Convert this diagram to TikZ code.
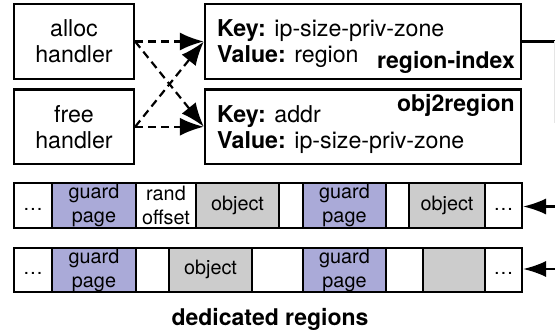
\documentclass[tikz,border=0pt]{standalone}
\usepackage{fontspec}
\setmainfont{TeX Gyre Heros}
\usetikzlibrary{arrows.meta}
\definecolor{guardc}{RGB}{170,170,216}
\definecolor{objc}{RGB}{204,204,204}
\begin{document}
\begin{tikzpicture}[x=1pt,y=-1pt,
  box/.style={draw,line width=2.3pt,inner sep=0pt},
  big/.style={font=\fontsize{23.2}{26.5}\selectfont,inner sep=0pt},
  bigb/.style={font=\fontsize{23}{26.5}\selectfont\bfseries,inner sep=0pt},
  cell/.style={draw,line width=2pt,inner sep=0pt,font=\fontsize{19.8}{24}\selectfont},
  rowa/.style={minimum height=45pt},
  rowb/.style={minimum height=44pt},
  one/.style={text height=14pt,text depth=4pt},
  two/.style={align=center},
  guard/.style={fill=guardc},
  obj/.style={fill=objc},
  dasharrow/.style={line width=2.2pt,dash pattern=on 8pt off 5pt,-{Latex[length=24pt,width=18pt]}},
  solidarrow/.style={line width=2.2pt,-{Latex[length=23pt,width=16pt]}},
]
\useasboundingbox (0,0) rectangle (555,334);

% handler boxes
\node[box,minimum width=120pt,minimum height=75pt] (alloc) at (74,41.5) {};
\node[big,anchor=base] (allocA) at (74,37) {alloc};
\node[big,anchor=base] (allocB) at (74,63) {handler};
\node[box,minimum width=120pt,minimum height=74.5pt] (free) at (74,126.75) {};
\node[big,anchor=base] (freeA) at (74,122.25) {free};
\node[big,anchor=base] (freeB) at (74,148.25) {handler};

% maps
\node[box,minimum width=316pt,minimum height=75pt] (ri) at (363,41.5) {};
\node[big,anchor=base west] (riK) at (217,37) {\textbf{Key:} ip-size-priv-zone};
\node[big,anchor=base west] (riV) at (217,63) {\textbf{Value:} region};
\node[bigb,anchor=base east] (riT) at (515,68.5) {region-index};
\node[box,minimum width=316pt,minimum height=74.5pt] (o2r) at (363,126.75) {};
\node[big,anchor=base west] (o2rK) at (217,122.25) {\textbf{Key:} addr};
\node[big,anchor=base west] (o2rV) at (217,148.25) {\textbf{Value:} ip-size-priv-zone};
\node[bigb,anchor=base east] (o2rT) at (515,112) {obj2region};

% dashed arrows
\draw[dasharrow] (alloc.east) -- (ri.west);
\draw[dasharrow] (alloc.east) -- (o2r.west);
\draw[dasharrow] (free.east) -- (ri.west);
\draw[dasharrow] (free.east) -- (o2r.west);

% line leaving region-index
\coordinate (riout) at (555,41.5);
\draw[line width=2.3pt] (ri.east) -- (riout);
\coordinate (faintend) at (554,123);
\draw[gray!20,line width=1pt] (554,41.5) -- (faintend);

% row 1
\node[cell,rowa,one,minimum width=38pt] (a1) at (33,205.5) {…};
\node[cell,rowa,two,guard,minimum width=84pt] (a2) at (94,205.5) {guard\\page};
\node[cell,rowa,two,minimum width=60pt] (a3) at (166,205.5) {rand\\offset};
\node[cell,rowa,one,obj,minimum width=83pt] (a4) at (237.5,205.5) {object};
\node[cell,rowa,minimum width=24pt] (a5) at (291,205.5) {};
\node[cell,rowa,two,guard,minimum width=83pt] (a6) at (344.5,205.5) {guard\\page};
\node[cell,rowa,minimum width=23pt] (a7) at (397.5,205.5) {};
\node[cell,rowa,one,obj,minimum width=76pt] (a8) at (447,205.5) {object};
\node[cell,rowa,one,minimum width=37pt] (a9) at (503.5,205.5) {…};

% row 2
\node[cell,rowb,one,minimum width=38pt] (b1) at (33,270) {…};
\node[cell,rowb,two,guard,minimum width=84pt] (b2) at (94,270) {guard\\page};
\node[cell,rowb,minimum width=33pt] (b3) at (152.5,270) {};
\node[cell,rowb,one,obj,minimum width=83pt] (b4) at (210.5,270) {object};
\node[cell,rowb,minimum width=51pt] (b5) at (277.5,270) {};
\node[cell,rowb,two,guard,minimum width=83pt] (b6) at (344.5,270) {guard\\page};
\node[cell,rowb,minimum width=37pt] (b7) at (404.5,270) {};
\node[cell,rowb,obj,minimum width=62pt] (b8) at (454,270) {};
\node[cell,rowb,one,minimum width=37pt] (b9) at (503.5,270) {…};

% arrows into regions
\coordinate (inA) at (555,206.5);
\coordinate (inB) at (555,269);
\draw[solidarrow] (inA) -- (inA -| a9.east);
\draw[solidarrow] (inB) -- (inB -| b9.east);

\node[bigb,anchor=base] (ded) at (270,325) {dedicated regions};
\end{tikzpicture}
\end{document}
